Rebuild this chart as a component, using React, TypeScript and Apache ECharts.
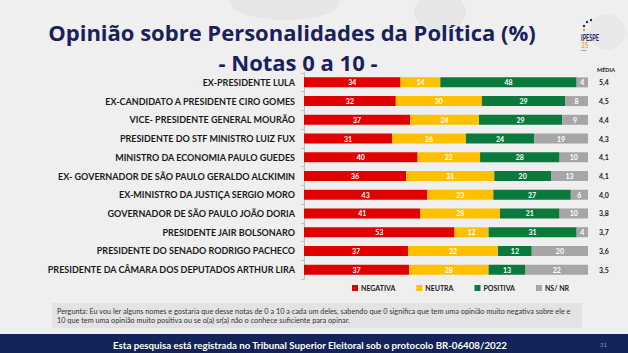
import React, { useEffect, useRef } from "react";
import * as echarts from "echarts";

const categories = [
  "EX-PRESIDENTE LULA",
  "EX-CANDIDATO A PRESIDENTE CIRO GOMES",
  "VICE- PRESIDENTE GENERAL MOURÃO",
  "PRESIDENTE DO STF MINISTRO LUIZ FUX",
  "MINISTRO DA ECONOMIA PAULO GUEDES",
  "EX- GOVERNADOR DE SÃO PAULO GERALDO ALCKIMIN",
  "EX-MINISTRO DA JUSTIÇA SERGIO MORO",
  "GOVERNADOR DE SÃO PAULO JOÃO DORIA",
  "PRESIDENTE JAIR BOLSONARO",
  "PRESIDENTE DO SENADO RODRIGO PACHECO",
  "PRESIDENTE DA CÂMARA DOS DEPUTADOS ARTHUR LIRA",
];
const negativa = [34, 32, 37, 31, 40, 36, 43, 41, 53, 37, 37];
const neutra = [14, 30, 24, 26, 22, 31, 23, 28, 12, 32, 28];
const positiva = [48, 29, 29, 24, 28, 20, 27, 21, 31, 12, 13];
const nsnr = [4, 8, 9, 19, 10, 13, 6, 10, 4, 20, 22];
const media = ["5,4", "4,5", "4,4", "4,3", "4,1", "4,1", "4,0", "3,8", "3,7", "3,6", "3,5"];
const seriesNames = ["NEGATIVA", "NEUTRA", "POSITIVA", "NS/ NR"];
const colors = ["#e00000", "#ffc000", "#0a7a3c", "#a6a6a6"];

export default function App() {
  const ref = useRef<HTMLDivElement>(null);
  useEffect(() => {
    const chart = echarts.init(ref.current!, null, { renderer: "svg" });
    const raw = [negativa, neutra, positiva, nsnr];
    const totals = categories.map((_, i) => raw.reduce((s, a) => s + a[i], 0));
    const FONT = "Lato";
    const TFONT = "'Open Sans'";
    chart.setOption({
      animation: false,
      backgroundColor: "#efefef",
      textStyle: { fontFamily: FONT },
      grid: { left: 304, right: 40, top: 73, bottom: 74 },
      xAxis: { type: "value", min: 0, max: 100, show: false },
      yAxis: [
        {
          type: "category",
          data: categories,
          inverse: true,
          axisLine: { show: true, lineStyle: { color: "#bfbfbf" } },
          axisTick: { show: true, length: 3, lineStyle: { color: "#bfbfbf" } },
          axisLabel: { fontFamily: FONT, fontWeight: "bold", fontSize: 9, color: "#1a1a1a", margin: 9 },
        },
        {
          type: "category",
          data: media,
          inverse: true,
          position: "right",
          axisLine: { show: false },
          axisTick: { show: false },
          axisLabel: { fontFamily: FONT, fontWeight: "bold", fontSize: 7, color: "#1a1a1a", margin: 11 },
        },
      ],
      legend: {
        top: 279.5,
        left: 347,
        itemWidth: 6,
        itemHeight: 6,
        itemGap: 21,
        icon: "rect",
        textStyle: { fontFamily: FONT, fontWeight: "bold", fontSize: 7, color: "#1a1a1a", padding: [0, 0, 0, -2] },
        data: seriesNames,
      },
      series: raw.map((arr, k) => ({
        name: seriesNames[k],
        type: "bar",
        stack: "total",
        barWidth: 10,
        itemStyle: { color: colors[k] },
        label: {
          show: true,
          position: "inside",
          color: "#ffffff",
          fontFamily: FONT,
          fontWeight: "bold",
          fontSize: 7,
          formatter: (p: any) => String(arr[p.dataIndex]),
        },
        data: arr.map((v, i) => (v / totals[i]) * 100),
      })),
      graphic: [
        { type: "ellipse", shape: { cx: 285, cy: 2, rx: 55, ry: 18 }, style: { fill: "#e6e6e6" }, z: -10 },
        { type: "ellipse", shape: { cx: 440, cy: 12, rx: 26, ry: 20 }, style: { fill: "#e6e6e6" }, z: -10 },
        { type: "circle", shape: { cx: 607, cy: 32, r: 18 }, style: { fill: "#e8e8e8" }, z: -10 },
        {
          type: "text",
          x: 292,
          y: 31.5,
          style: {
            text: "Opinião sobre Personalidades da Política (%)",
            font: `bold 22px ${TFONT}`,
            lineHeight: 24,
            fill: "#1b1f5e",
            align: "center",
            verticalAlign: "middle",
          },
        },
        {
          type: "text",
          x: 298,
          y: 61.5,
          style: {
            text: "- Notas 0 a 10 -",
            font: `bold 22px ${TFONT}`,
            lineHeight: 24,
            fill: "#1b1f5e",
            align: "center",
            verticalAlign: "middle",
          },
        },
        { type: "text", x: 581, y: 33, scaleX: 0.62, style: { text: "IPESPE", font: `bold 9px ${FONT}`, fill: "#1b1f5e" } },
        { type: "text", x: 581, y: 41.5, scaleX: 0.8, style: { text: "35", font: `8px ${FONT}`, fill: "#f08a2a" } },
        { type: "text", x: 581, y: 49, style: { text: "anos", font: `2.5px ${FONT}`, fill: "#1b1f5e" } },
        { type: "circle", shape: { cx: 587, cy: 22, r: 1.2 }, style: { fill: "#1b1f5e" } },
        { type: "circle", shape: { cx: 591, cy: 20, r: 1.2 }, style: { fill: "#1b1f5e" } },
        { type: "circle", shape: { cx: 584, cy: 26, r: 1.2 }, style: { fill: "#1b1f5e" } },
        { type: "circle", shape: { cx: 584, cy: 30, r: 1.2 }, style: { fill: "#f08a2a" } },
        { type: "text", x: 597, y: 66.5, style: { text: "MÉDIA", font: `bold 5.5px ${FONT}`, fill: "#1a1a1a" } },
        { type: "rect", shape: { x: 52, y: 303, width: 530, height: 25 }, style: { fill: "#e3e3e3" } },
        {
          type: "text",
          x: 57,
          y: 307,
          style: {
            text:
              "Pergunta: Eu vou ler alguns nomes e gostaria que desse notas de 0 a 10 a cada um deles, sabendo que 0 significa que tem uma opinião muito negativa sobre ele e\n10 que tem uma opinião muito positiva ou se o(a) sr(a) não o conhece suficiente para opinar.",
            font: `7.3px ${FONT}`,
            lineHeight: 9,
            fill: "#333333",
          },
        },
        { type: "rect", shape: { x: 0, y: 334, width: 628, height: 19 }, style: { fill: "#14245a" } },
        {
          type: "text",
          x: 310,
          y: 344.5,
          style: {
            text: "Esta pesquisa está registrada no Tribunal Superior Eleitoral sob o protocolo BR-06408/2022",
            font: `bold 9.7px ${FONT}`,
            fill: "#ffffff",
            align: "center",
            verticalAlign: "middle",
          },
        },
        {
          type: "text",
          x: 600,
          y: 344.5,
          style: { text: "31", font: `6px ${FONT}`, fill: "#8a93b0", verticalAlign: "middle" },
        },
      ],
    });
    return () => chart.dispose();
  }, []);
  return <div ref={ref} style={{ width: 628, height: 353, position: "absolute", left: 0, top: 0 }} />;
}
